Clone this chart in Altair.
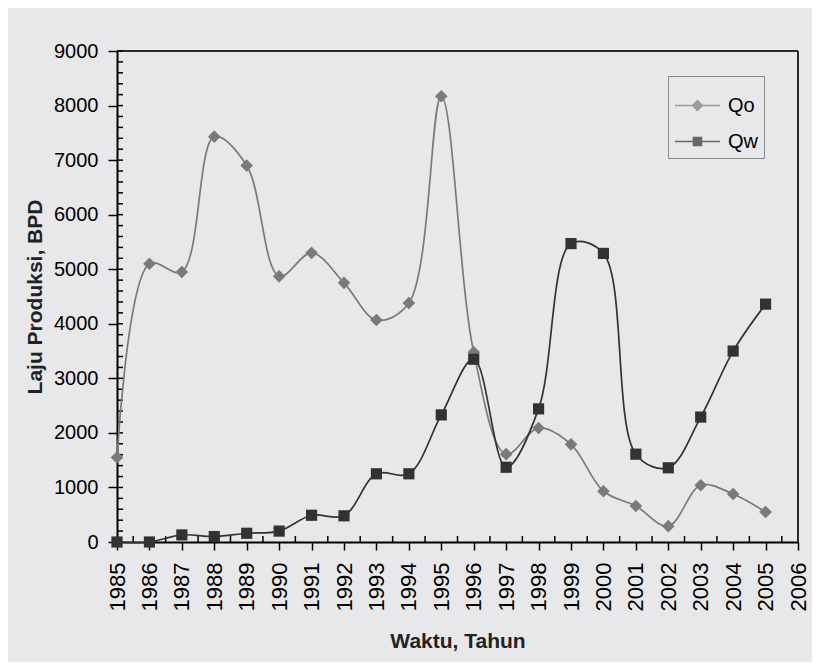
import altair as alt
import pandas as pd

years = list(range(1985, 2006))
qo = [1550, 5100, 4950, 7430, 6900, 4870, 5300, 4750, 4070, 4380, 8170,
      3480, 1610, 2090, 1790, 930, 660, 290, 1040, 880, 550]
qw = [0, 0, 130, 100, 160, 200, 490, 480, 1250, 1250, 2330,
      3350, 1370, 2440, 5470, 5290, 1610, 1360, 2290, 3500, 4360]
series = ["Qo", "Qw"]
x_major = list(range(1985, 2007))
x_minor = [y + 0.5 for y in range(1985, 2006)]
y_major = list(range(0, 9001, 1000))
y_minor = list(range(0, 9001, 200))
x_lim = [1985, 2006]
y_lim = [0, 9000]

rows = []
for i, yr in enumerate(years):
    rows.append({"year": yr, "value": qo[i], "series": "Qo"})
    rows.append({"year": yr, "value": qw[i], "series": "Qw"})
df = pd.DataFrame(rows)
xt = pd.DataFrame({"year": x_minor})
yt = pd.DataFrame({"value": y_minor})
frame_df = pd.DataFrame({"year": [x_lim[0], x_lim[1]], "year2": [x_lim[1], x_lim[1]],
                         "value": [y_lim[1], y_lim[0]], "value2": [y_lim[1], y_lim[1]]})

W, H = 681, 491
FONT = "Liberation Sans"
GRAY, DARK = "#7a7a7a", "#2f3333"
xs = alt.Scale(domain=x_lim, nice=False, zero=False)
ys = alt.Scale(domain=y_lim, nice=False)
cs = alt.Scale(domain=series, range=[GRAY, DARK])

x_axis = alt.Axis(values=x_major, format="d", labelAngle=270, tickSize=8,
                  tickColor="black", tickWidth=1.5, domainColor="black",
                  domainWidth=2, labelFontSize=22, labelPadding=12,
                  labelColor="black", labelFont=FONT, grid=False,
                  title="Waktu, Tahun", titleFontSize=21, titleFont=FONT,
                  titleFontWeight="bold", titleColor="#222", titlePadding=20)
y_axis = alt.Axis(values=y_major, format="d", tickSize=9, tickColor="black",
                  tickWidth=1.5, domainColor="black", domainWidth=2,
                  labelFontSize=20, labelPadding=10, labelColor="black",
                  labelFont=FONT, grid=False, title="Laju Produksi, BPD",
                  titleFontSize=21, titleFont=FONT, titleFontWeight="bold",
                  titleColor="#222", titlePadding=8)

X = alt.X("year:Q", scale=xs, axis=x_axis)
Y = alt.Y("value:Q", scale=ys, axis=y_axis)

# top and right borders of the plot frame
frame = alt.Chart(frame_df).mark_rule(color="#2a2a2a", strokeWidth=2).encode(
    x=X, x2="year2:Q", y=Y, y2="value2:Q")

x_inner = alt.Chart(xt).mark_rule(color="black", strokeWidth=1.5).encode(
    x=X, y=alt.value(H - 6), y2=alt.value(H))
y_inner = alt.Chart(yt).mark_rule(color="black", strokeWidth=1.5).encode(
    y=Y, x=alt.value(0), x2=alt.value(6))


def series_layers(name, color, shape, size):
    base = alt.Chart(df).transform_filter(f"datum.series == '{name}'")
    line = base.mark_line(interpolate="catmull-rom", strokeWidth=1.7,
                          color=color).encode(x=X, y=Y)
    pts = base.mark_point(filled=True, opacity=1, shape=shape, size=size,
                          color=color).encode(x=X, y=Y)
    return [line, pts]


# legend symbols: a line through a (ring-filled) marker
diamond_rings = "".join(
    f"M0,-{r}L{r},0L0,{r}L-{r},0Z" for r in ("0.22", "0.17", "0.12", "0.07", "0.02"))
square_rings = "".join(
    f"M-{r},-{r}H{r}V{r}H-{r}Z" for r in ("0.18", "0.13", "0.08", "0.03"))
legend_paths = ["M-1,0H1" + diamond_rings, "M-1,0H1" + square_rings]

leg = alt.Legend(title=None, orient="none", legendX=551, legendY=25,
                 symbolSize=2025, symbolStrokeWidth=1.5,
                 labelFontSize=20, labelFont=FONT, labelColor="black",
                 labelOffset=7, rowPadding=2, padding=6,
                 strokeColor="#8a8a8a")
legend_layer = alt.Chart(df).transform_calculate(off="-3000").mark_point(
    filled=False, clip=True, strokeWidth=1.5).encode(
    x=X,
    y=alt.Y("off:Q", scale=ys, axis=y_axis),
    color=alt.Color("series:N", scale=cs, legend=leg),
    shape=alt.Shape("series:N", scale=alt.Scale(domain=series, range=legend_paths),
                    legend=leg),
)

layers = [frame, x_inner, y_inner] \
    + series_layers("Qo", GRAY, "diamond", 160) \
    + series_layers("Qw", DARK, "square", 125) + [legend_layer]

chart = alt.layer(*layers).properties(
    width=W, height=H,
    autosize=alt.AutoSizeParams(type="none"),
    padding={"left": 109, "top": 43, "right": 14, "bottom": 120},
    background="#e8e8ea",
).configure(font=FONT).configure_view(stroke="transparent")

chart.save("out.html", embed_options={"renderer": "svg", "actions": False})
